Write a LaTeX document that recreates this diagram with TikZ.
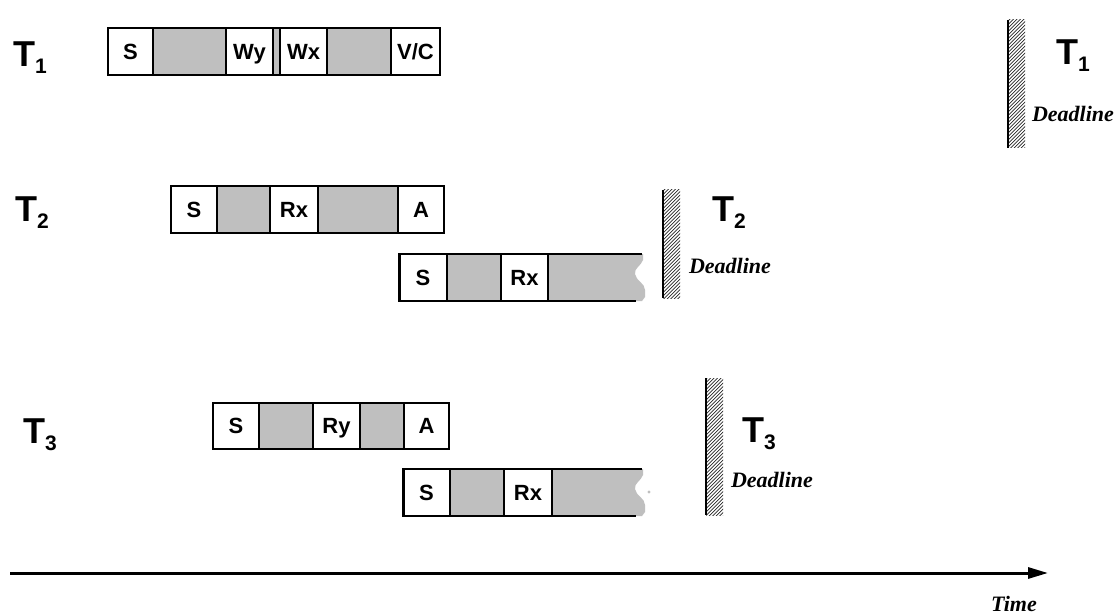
\documentclass[tikz,border=0pt]{standalone}
\usepackage{fontspec}
\setmainfont{Liberation Sans}
\newfontfamily\tmsfont{Liberation Serif}
\usetikzlibrary{arrows.meta}
\tikzset{
  cellst/.style={draw=black, line width=1.3pt, inner sep=0pt, outer sep=0pt,
    text height=15.5pt, text depth=0pt,
    font=\fontsize{22}{22}\selectfont\bfseries},
  tlabel/.style={anchor=base west, inner sep=0pt, font=\fontsize{36}{36}\selectfont\bfseries},
  dlabel/.style={anchor=base, inner sep=0pt, font=\fontsize{22}{22}\selectfont\tmsfont\bfseries\itshape},
  tornfill/.style={fill=gray!50, draw=none},
  edgeline/.style={line width=1.3pt},
  hatchline/.style={line width=0.7pt, black!85},
  deadbar/.style={line width=2.6pt},
  timeaxis/.style={line width=3pt, -{Triangle[length=20pt,width=11pt]}}
}
\newcommand\cellbox[7]{\node[cellst, fill=#6, minimum width={#3-#2}, minimum height={#5-#4}] (#1) at ({(#2+#3)/2},{(#4+#5)/2}) {#7};}
\newcommand\tsub[1]{T\raisebox{-7pt}{\fontsize{21}{21}\selectfont #1}}
\newcommand\deadbarat[4]{%
  \begin{scope}
    \clip (#1,#2) rectangle (#1+17,#3);
    \foreach \k in {-20,-16.5,...,#4}{\draw[hatchline] (#1,#2+\k) -- ++(24,-24);}
  \end{scope}
  \draw[deadbar] (#1,#2) -- (#1,#3);}
\begin{document}
\begin{tikzpicture}[x=1pt,y=-1pt]
\useasboundingbox[fill=white] (0,0) rectangle (1117,615);

% ---------- T1 ----------
\node[tlabel] (t1l) at (13,67) {\tsub{1}};
\cellbox{a1}{108}{153}{28}{75}{white}{S}
\cellbox{a2}{153}{226}{28}{75}{gray!50}{}
\cellbox{a3}{226}{273}{28}{75}{white}{Wy}
\cellbox{a4}{273}{280}{28}{75}{gray!50}{}
\cellbox{a5}{280}{327}{28}{75}{white}{Wx}
\cellbox{a6}{327}{391}{28}{75}{gray!50}{}
\cellbox{a7}{391}{440}{28}{75}{white}{V/C}

% ---------- T2 ----------
\node[tlabel] (t2l) at (15,222) {\tsub{2}};
\cellbox{b1}{171}{217}{186}{233}{white}{S}
\cellbox{b2}{217}{270}{186}{233}{gray!50}{}
\cellbox{b3}{270}{318}{186}{233}{white}{Rx}
\cellbox{b4}{318}{398}{186}{233}{gray!50}{}
\cellbox{b5}{398}{444}{186}{233}{white}{A}

% restarted T2 (torn)
\fill[tornfill] (548,254) -- (643,254) -- (643,260) .. controls (641,266) and (634,268) .. (635,274)
   .. controls (636,281) and (645,283) .. (645,290) -- (645,297) .. controls (644,299) .. (642,301) -- (548,301) -- cycle;
\draw[edgeline] (548,254) -- (642,254);
\draw[edgeline] (548,301) -- (636,301);
\cellbox{c1}{399}{447}{254}{301}{white}{S}
\cellbox{c2}{447}{501}{254}{301}{gray!50}{}
\cellbox{c3}{501}{548}{254}{301}{white}{Rx}
\draw[line width=3pt] (c1.north west) -- (c1.south west);

% ---------- T3 ----------
\node[tlabel] (t3l) at (23,443) {\tsub{3}};
\cellbox{d1}{213}{259}{403}{449}{white}{S}
\cellbox{d2}{259}{313}{403}{449}{gray!50}{}
\cellbox{d3}{313}{360}{403}{449}{white}{Ry}
\cellbox{d4}{360}{404}{403}{449}{gray!50}{}
\cellbox{d5}{404}{449}{403}{449}{white}{A}

% restarted T3 (torn)
\fill[tornfill] (552,469) -- (643,469) -- (643,475) .. controls (641,481) and (634,483) .. (635,489)
   .. controls (636,496) and (645,498) .. (645,505) -- (645,512) .. controls (644,514) .. (642,516) -- (552,516) -- cycle;
\fill[gray!50] (649,492) circle (1.6);
\draw[edgeline] (552,469) -- (642,469);
\draw[edgeline] (552,516) -- (636,516);
\cellbox{e1}{403}{450}{469}{516}{white}{S}
\cellbox{e2}{450}{504}{469}{516}{gray!50}{}
\cellbox{e3}{504}{552}{469}{516}{white}{Rx}
\draw[line width=3pt] (e1.north west) -- (e1.south west);

% ---------- Deadlines ----------
\deadbarat{1008}{20}{148}{150}
\node[tlabel] (t1r) at (1056,65) {\tsub{1}};
\node[dlabel] (d1r) at (1073,122) {Deadline};

\deadbarat{663}{190}{298}{130}
\node[tlabel] (t2r) at (712,222) {\tsub{2}};
\node[dlabel] (d2r) at (730,273) {Deadline};

\deadbarat{706}{378}{515}{160}
\node[tlabel] (t3r) at (742,442) {\tsub{3}};
\node[dlabel] (d3r) at (772,487) {Deadline};

% ---------- Time axis ----------
\coordinate (ts) at (10,573);
\coordinate (te) at (1048,573);
\draw[timeaxis] (ts) -- (te);
\node[dlabel] (time) at (1014,611) {Time};
\end{tikzpicture}
\end{document}
